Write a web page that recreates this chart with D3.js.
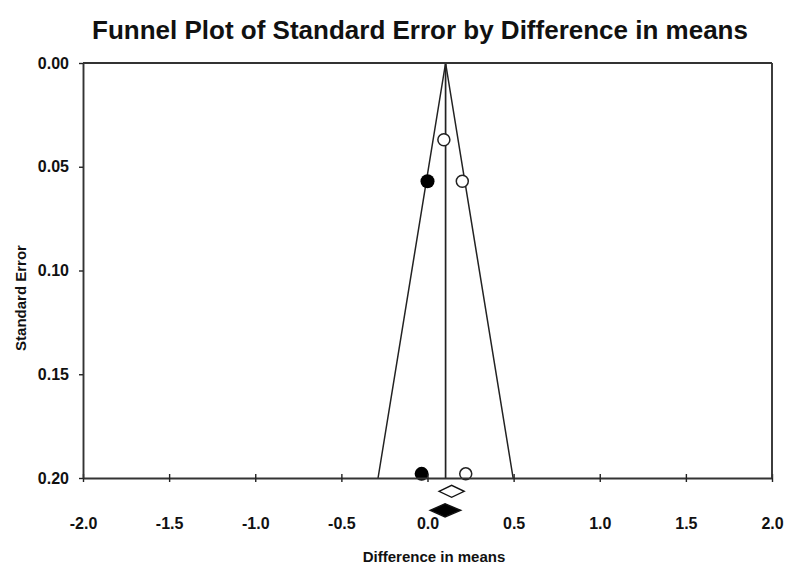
<!DOCTYPE html>
<html><head><meta charset="utf-8">
<script src="https://cdn.jsdelivr.net/npm/d3@7"></script>
<style>body{margin:0;background:#fff;}text{font-family:"Liberation Sans",Arial,sans-serif;font-weight:bold;fill:#111;}</style>
</head><body>
<svg id="c" width="785" height="571"></svg>
<script>
// ---- data ----
const xTickValues = [-2.0, -1.5, -1.0, -0.5, 0.0, 0.5, 1.0, 1.5, 2.0];
const yTickValues = [0.00, 0.05, 0.10, 0.15, 0.20];
const observedDiff = [0.095, 0.202, 0.222];
const observedSE   = [0.037, 0.057, 0.198];
const imputedDiff  = [0.000, -0.034];
const imputedSE    = [0.057, 0.198];
const meanDiff = 0.105;
const funnelZ = 1.96;
const funnelMaxSE = 0.20;
const diamondLabels = ["observed", "adjusted"];
const diamondCenter = [0.140, 0.102];
const diamondLow    = [0.067, 0.015];
const diamondHigh   = [0.213, 0.193];
const diamondRowSE  = [0.2064, 0.2156];

// ---- layout ----
const svg = d3.select("#c");
const L = 83, R = 772, T = 63, B = 478;
const x = d3.scaleLinear().domain([-2, 2]).range([L, R]);
const y = d3.scaleLinear().domain([0, 0.2]).range([T, B]);
const fmt1 = d => d3.format(".1f")(d).replace("\u2212", "-");
const fmt2 = d => d3.format(".2f")(d).replace("\u2212", "-");

// title
svg.append("text").attr("x", 420).attr("y", 39).attr("text-anchor", "middle")
  .style("font-size", "26px").text("Funnel Plot of Standard Error by Difference in means");

// funnel
const funnel = [[meanDiff - funnelZ * funnelMaxSE, funnelMaxSE], [meanDiff, 0], [meanDiff + funnelZ * funnelMaxSE, funnelMaxSE]];
svg.append("path").attr("d", d3.line().x(d => x(d[0])).y(d => y(d[1]))(funnel))
  .attr("fill", "none").attr("stroke", "#222").attr("stroke-width", 1.5);
svg.append("line").attr("x1", x(meanDiff)).attr("x2", x(meanDiff)).attr("y1", y(0)).attr("y2", y(0.2))
  .attr("stroke", "#222").attr("stroke-width", 1.7);

// points
svg.selectAll("circle.obs").data(observedDiff).join("circle").attr("class", "obs")
  .attr("cx", d => x(d)).attr("cy", (d, i) => y(observedSE[i])).attr("r", 6)
  .attr("fill", "#fff").attr("stroke", "#222").attr("stroke-width", 1.5);
svg.selectAll("circle.imp").data(imputedDiff).join("circle").attr("class", "imp")
  .attr("cx", d => x(d)).attr("cy", (d, i) => y(imputedSE[i])).attr("r", 7)
  .attr("fill", "#000").attr("stroke", "none");

// axes frame
const xAxis = d3.axisBottom(x).tickValues(xTickValues).tickFormat(fmt1).tickSize(4).tickSizeOuter(0);
const gx = svg.append("g").attr("transform", `translate(0,${B})`).call(xAxis);
gx.selectAll(".tick line").attr("y1", -4).attr("y2", 4).attr("stroke", "#222").attr("stroke-width", 1.4);
gx.select(".domain").attr("stroke", "#333").attr("stroke-width", 1.9);
gx.selectAll(".tick text").attr("y", 51).attr("dy", 0).style("font-size", "16px").style("font-family", "Liberation Sans, Arial").style("font-weight", "bold").attr("fill", "#111");

const yAxis = d3.axisLeft(y).tickValues(yTickValues).tickFormat(fmt2).tickSize(4).tickSizeOuter(0);
const gy = svg.append("g").attr("transform", `translate(${L},0)`).call(yAxis);
gy.selectAll(".tick line").attr("stroke", "#222").attr("stroke-width", 1.4);
gy.select(".domain").attr("stroke", "#333").attr("stroke-width", 1.9);
gy.selectAll(".tick text").attr("x", -14).style("font-size", "16px").style("font-family", "Liberation Sans, Arial").style("font-weight", "bold").attr("fill", "#111");

svg.append("line").attr("x1", L).attr("x2", R).attr("y1", T).attr("y2", T).attr("stroke", "#333").attr("stroke-width", 1.9);
svg.append("line").attr("x1", R).attr("x2", R).attr("y1", T).attr("y2", B).attr("stroke", "#333").attr("stroke-width", 1.9);

// diamonds
const diamondH = [6, 6.5];
diamondLabels.forEach((lab, i) => {
  const cy = y(diamondRowSE[i]);
  const pts = [[x(diamondLow[i]), cy], [x(diamondCenter[i]), cy - diamondH[i]], [x(diamondHigh[i]), cy], [x(diamondCenter[i]), cy + diamondH[i]]];
  svg.append("polygon").attr("points", pts.map(p => p.join(",")).join(" "))
    .attr("fill", i === 0 ? "#fff" : "#000").attr("stroke", "#111").attr("stroke-width", 1.4);
});

// axis labels
svg.append("text").attr("x", 434).attr("y", 562).attr("text-anchor", "middle")
  .style("font-size", "15px").text("Difference in means");
svg.append("text").attr("transform", "translate(26,298) rotate(-90)").attr("text-anchor", "middle")
  .style("font-size", "15px").text("Standard Error");
</script>
</body></html>
